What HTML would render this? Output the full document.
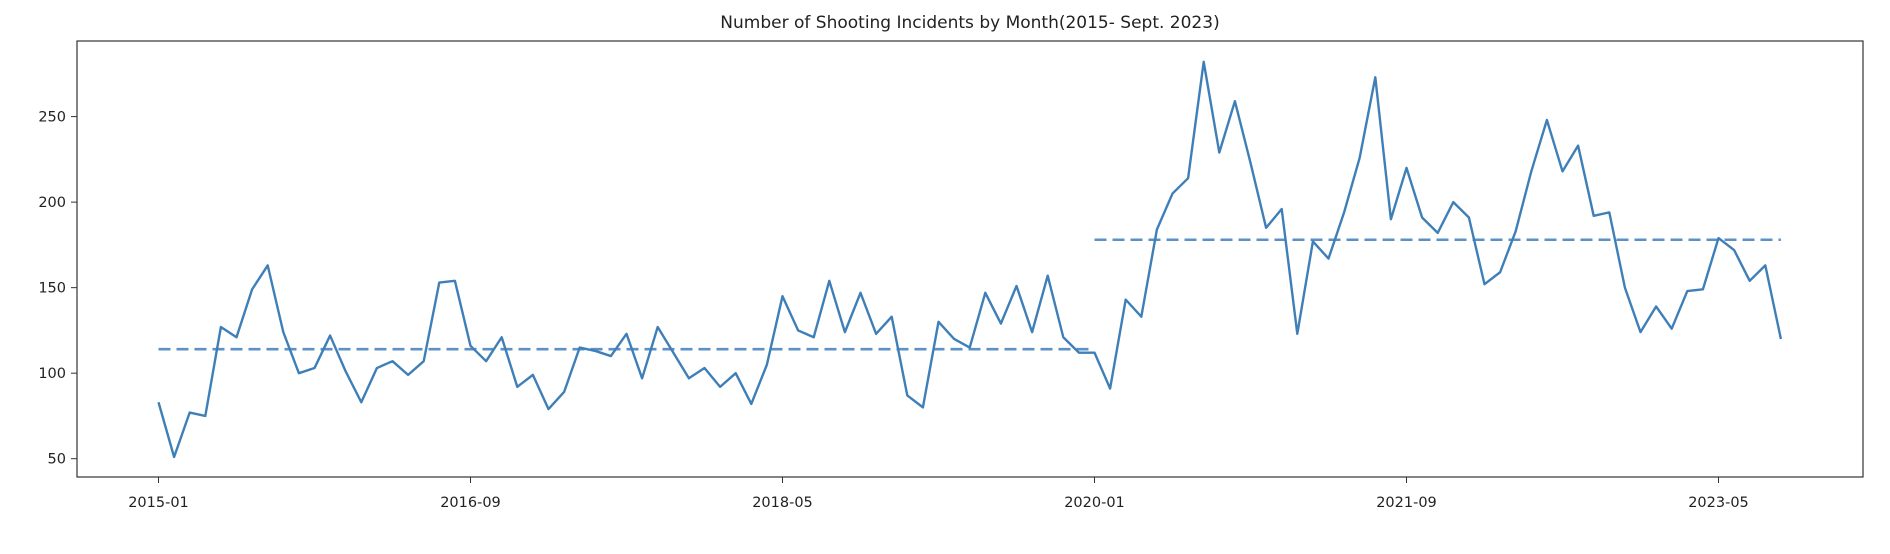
<!DOCTYPE html>
<html><head><meta charset="utf-8"><style>
html,body{margin:0;padding:0;background:#fff;}
svg{display:block;font-family:"DejaVu Sans","Liberation Sans",sans-serif;}
</style></head><body>
<svg id="chart" width="1890" height="554" viewBox="0 0 1890 554" xmlns="http://www.w3.org/2000/svg">
<rect width="1890" height="554" fill="#fff"/>
<text x="970" y="28" text-anchor="middle" font-size="17" fill="#222">Number of Shooting Incidents by Month(2015- Sept. 2023)</text>
<g id="grid"></g>
<g id="series"></g>
<rect x="77" y="41" width="1786" height="436" fill="none" stroke="#333" stroke-width="1.2"/>
</svg>
<script>
const values = [83,51,77,75,127,121,149,163,124,100,103,122,101,83,103,107,99,107,153,154,
116,107,121,92,99,79,89,115,113,110,123,97,127,112,97,103,92,100,82,105,
145,125,121,154,124,147,123,133,87,80,130,120,115,147,129,151,124,157,121,112,
112,91,143,133,184,205,214,282,229,259,223,185,196,123,177,167,194,226,273,190,
220,191,182,200,191,152,159,183,218,248,218,233,192,194,150,124,139,126,148,149,
179,172,154,163,120];
const meanValues = [114, 178];
const meanStart = [0, 60];
const meanEnd = [60, 104];
const yTicks = [50,100,150,200,250];
const xTickIdx = [0,20,40,60,80,100];
const xTickLabels = ["2015-01","2016-09","2018-05","2020-01","2021-09","2023-05"];

const NS="http://www.w3.org/2000/svg";
const svg=document.getElementById('chart');
const gS=document.getElementById('series');
const gG=document.getElementById('grid');
function xs(i){return 158.5+15.6*i;}
function ys(v){return 458.7-(v-50)*1.7105;}
function mk(t,a,p){const e=document.createElementNS(NS,t);for(const k in a)e.setAttribute(k,a[k]);(p||svg).appendChild(e);return e;}

yTicks.forEach(v=>{
  const t=mk('line',{x1:71,x2:77,y1:ys(v),y2:ys(v),stroke:'#333','stroke-width':1},gG);
  
  
  const l=mk('text',{x:66,y:ys(v)+5,'text-anchor':'end','font-size':14.5,fill:'#222'},gG);
  
  
  l.textContent=v;
});
xTickIdx.forEach((i,k)=>{
  const t=mk('line',{x1:xs(i),x2:xs(i),y1:477,y2:483,stroke:'#333','stroke-width':1},gG);
  
  
  const l=mk('text',{x:xs(i),y:507,'text-anchor':'middle','font-size':14.5,fill:'#222'},gG);
  
  
  l.textContent=xTickLabels[k];
});
meanValues.forEach((m,k)=>{
  const l=mk('line',{x1:xs(meanStart[k]),x2:xs(meanEnd[k]),y1:ys(m),y2:ys(m),stroke:'#4a86c0','stroke-width':2.6,'stroke-dasharray':'12 6','opacity':0.9},gS);
  
  
});
const path=mk('polyline',{points:values.map((v,i)=>xs(i)+','+ys(v)).join(' '),fill:'none',stroke:'#3f7fb8','stroke-width':2.4,'stroke-linejoin':'round'},gS);


</script>
</body></html>
